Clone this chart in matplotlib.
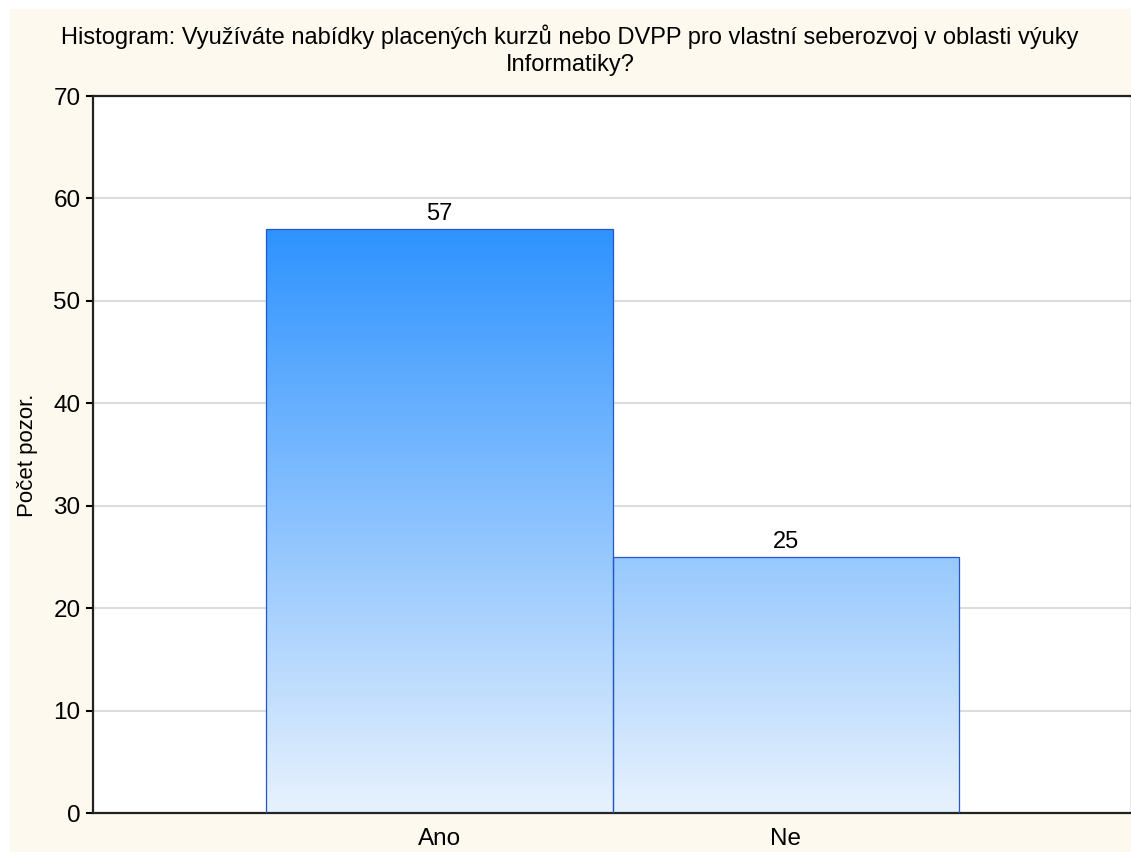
import numpy as np
import matplotlib
matplotlib.use('Agg')
from matplotlib import pyplot as plt
from matplotlib.patches import Rectangle
from matplotlib.colors import LinearSegmentedColormap

categories = ['Ano', 'Ne']
counts = [57, 25]
yticks = [0, 10, 20, 30, 40, 50, 60, 70]
title = 'Histogram: Využíváte nabídky placených kurzů nebo DVPP pro vlastní seberozvoj v oblasti výuky\nInformatiky?'
ylabel = 'Počet pozor.'

plt.rcParams['font.family'] = ['Liberation Sans', 'DejaVu Sans']

fig = plt.figure(figsize=(11.31, 8.52), dpi=100, facecolor='white')
# cream background panel
fig.patches.append(Rectangle((10 / 1131, 0), 1 - 10 / 1131, 1 - 9 / 852,
                             transform=fig.transFigure, facecolor='#FEF9EE',
                             edgecolor='none', zorder=-5))

ax = fig.add_axes([93 / 1131, 1 - 813 / 852, (1132 - 93) / 1131, (813 - 96) / 852])
ax.set_zorder(2)
ax.set_facecolor('white')

x = np.arange(len(categories))
bars = ax.bar(x, counts, width=1.0, color='none', edgecolor='#2457C8',
              linewidth=0.9, zorder=3)

# vertical gradient, light at zero, strong blue at the highest count
cmap = LinearSegmentedColormap.from_list('grad', ['#E8F2FD', '#2E93FF'])
ymax = max(counts)
grad = np.linspace(0, 1, 256).reshape(-1, 1)
for b in bars:
    im = ax.imshow(grad, extent=(-1, 2, 0, ymax), origin='lower', aspect='auto',
                   cmap=cmap, zorder=2)
    clip = Rectangle(b.get_xy(), b.get_width(), b.get_height(), transform=ax.transData)
    im.set_clip_path(clip)

for xi, c in zip(x, counts):
    ax.text(xi, c + 0.4, str(c), ha='center', va='bottom', fontsize=17, zorder=4)

ax.set_xlim(-1, 2)
ax.set_ylim(0, 70)
ax.set_yticks(yticks)
ax.set_xticks(x)
ax.set_xticklabels(categories)
ax.yaxis.grid(True, color='#DCDCDC', linewidth=1.5, zorder=1)
ax.set_axisbelow(True)

for s in ax.spines.values():
    s.set_linewidth(1.6)
    s.set_color('#222222')

ax.tick_params(axis='y', direction='out', length=5, width=1.5, labelsize=17.5,
               right=True, pad=4)
ax.tick_params(axis='x', direction='in', length=4, width=1.2, labelsize=17.5, pad=11)

fig.text(28 / 1131, 1 - 455 / 852, ylabel, rotation=90, ha='center', va='center', fontsize=16)
fig.text(570 / 1131, 1 - 50 / 852, title, ha='center', va='center', fontsize=17,
         linespacing=1.3)

plt.savefig('out.png', dpi=100, facecolor=fig.get_facecolor())
